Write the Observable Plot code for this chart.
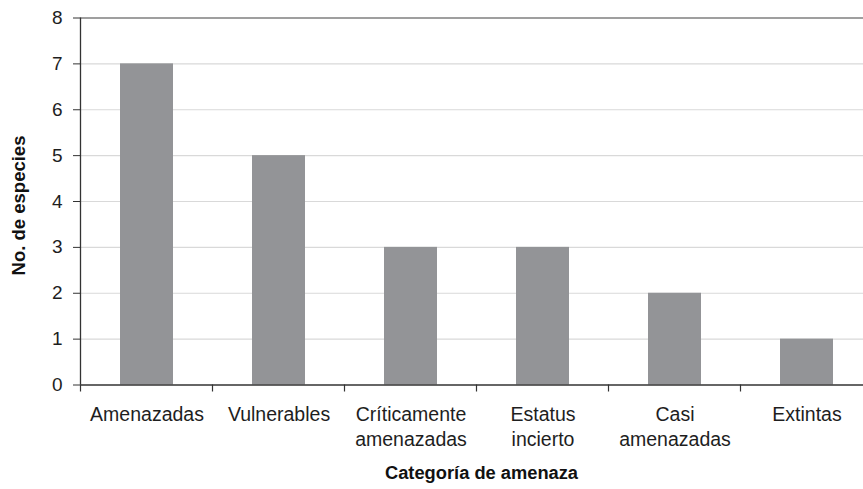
<!DOCTYPE html>
<html>
<head>
<meta charset="utf-8">
<script src="https://cdn.jsdelivr.net/npm/d3@7"></script>
<script src="https://cdn.jsdelivr.net/npm/@observablehq/plot@0.6"></script>
<style>
  html, body { margin: 0; padding: 0; background: #fff; overflow: hidden; }
  #chart svg { display: block; }
</style>
</head>
<body>
<div id="chart"></div>
<script>
const categories = ["Amenazadas", "Vulnerables", "Críticamente amenazadas", "Estatus incierto", "Casi amenazadas", "Extintas"];
const tickLabels = ["Amenazadas", "Vulnerables", "Críticamente\namenazadas", "Estatus\nincierto", "Casi\namenazadas", "Extintas"];
const values = [7, 5, 3, 3, 2, 1];
const yTicks = [0, 1, 2, 3, 4, 5, 6, 7, 8];

const data = categories.map((c, i) => ({category: c, value: values[i]}));
const labelOf = new Map(categories.map((c, i) => [c, tickLabels[i]]));

const font = "'Liberation Sans', Arial, sans-serif";

// band-edge tick marks on the x axis
const edgeTicks = (index, scales) => {
  const x = scales.x, y = scales.y;
  const step = x.step();
  const bw = x.bandwidth();
  const y0 = y(0);
  const g = d3.create("svg:g");
  categories.forEach(c => {
    const xe = x(c) - (step - bw) / 2;
    g.append("line")
      .attr("x1", xe).attr("x2", xe)
      .attr("y1", y0).attr("y2", y0 + 7)
      .attr("stroke", "#333").attr("stroke-width", 1.2);
  });
  return g.node();
};

// y axis line at the left edge of the first band
const yAxisLine = (index, scales) => {
  const x = scales.x, y = scales.y;
  const xe = x(categories[0]) - (x.step() - x.bandwidth()) / 2;
  return d3.create("svg:line")
    .attr("x1", xe).attr("x2", xe)
    .attr("y1", y(0)).attr("y2", y(8))
    .attr("stroke", "#333").attr("stroke-width", 1.3).node();
};

const chart = Plot.plot({
  width: 863,
  height: 489,
  marginLeft: 80,
  marginRight: -9,
  marginTop: 17.5,
  marginBottom: 104.5,
  style: {fontFamily: font, background: "#fff", color: "#1e1e1e"},
  x: {domain: categories, paddingInner: 0.6, paddingOuter: 0.3, label: null},
  y: {domain: [0, 8], label: null},
  marks: [
    Plot.gridY(yTicks.filter(d => d > 0 && d < 8), {stroke: "#d9d9d9", strokeOpacity: 1, strokeWidth: 1.2}),
    Plot.ruleY([8], {stroke: "#7f7f7f", strokeWidth: 1.3}),
    Plot.barY(data, {x: "category", y: "value", fill: "#939497"}),
    Plot.ruleY([0], {stroke: "#333", strokeWidth: 1.3}),
    Plot.axisY({
      ticks: yTicks,
      tickSize: 7,
      tickPadding: 11,
      fontSize: 19,
      stroke: "#333",
      label: null
    }),
    yAxisLine,
    edgeTicks,
    Plot.axisX({
      tickSize: 0,
      tickPadding: 19,
      fontSize: 19.5,
      lineHeight: 1.25,
      tickFormat: d => labelOf.get(d),
      label: null
    }),
    Plot.text(["No. de especies"], {
      frameAnchor: "left", rotate: -90, dx: -61, dy: 4,
      textAnchor: "middle", lineAnchor: "middle",
      fontWeight: "bold", fontSize: 18.5, fill: "#111"
    }),
    Plot.text(["Categoría de amenaza"], {
      frameAnchor: "bottom", dy: 88, dx: 5,
      textAnchor: "middle", lineAnchor: "middle",
      fontWeight: "bold", fontSize: 18.3, fill: "#111"
    })
  ]
});

document.getElementById("chart").append(chart);
</script>
</body>
</html>
